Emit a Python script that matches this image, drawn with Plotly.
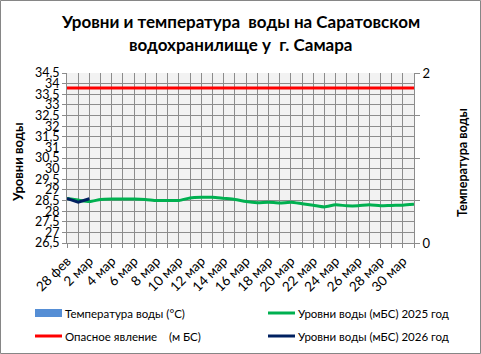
import plotly.graph_objects as go

dates = ["28 фев"] + [f"{d} мар" for d in range(1, 32)]
level_2025 = [28.6, 28.52, 28.45, 28.55, 28.57, 28.57, 28.57, 28.55, 28.5, 28.5,
              28.5, 28.62, 28.65, 28.65, 28.6, 28.55, 28.45, 28.4, 28.42, 28.38,
              28.42, 28.35, 28.28, 28.2, 28.3, 28.25, 28.25, 28.3, 28.25, 28.27,
              28.28, 28.32]
level_2026 = [28.6, 28.42, 28.58]
danger = [33.8] * len(dates)
temperature = [None] * len(dates)

left_ticks = [26.5 + 0.5 * i for i in range(17)]
left_labels = [("%g" % v).replace(".", ",") for v in left_ticks]
right_ticks = [0, 0.5, 1, 1.5, 2]
right_labels = ["0", "", "", "", "2"]

legend_names = ["Температура воды (°С)", "Уровни воды (мБС) 2025 год",
                "Опасное явление    (м БС)", "Уровни воды (мБС) 2026 год"]
legend_colors = ["#558ed5", "#00b050", "#ff0000", "#002060"]

FONT = "Lato"
fig = go.Figure()

fig.add_trace(go.Bar(x=dates, y=temperature, name=legend_names[0],
                     marker_color=legend_colors[0], yaxis="y2"))
fig.add_trace(go.Scatter(x=dates, y=danger, mode="lines", name=legend_names[2],
                         line=dict(color=legend_colors[2], width=3)))
fig.add_trace(go.Scatter(x=dates, y=level_2025, mode="lines", name=legend_names[1],
                         line=dict(color=legend_colors[1], width=3, shape="spline",
                                   smoothing=0.6)))
fig.add_trace(go.Scatter(x=dates[:len(level_2026)], y=level_2026, mode="lines",
                         name=legend_names[3], line=dict(color=legend_colors[3], width=3)))

W, H = 481, 354
ml, mr, mt, mb = 67, 67, 73, 111
pw, ph = W - ml - mr, H - mt - mb

def px(x):
    return (x - ml) / pw

def py(y):
    return (H - mb - y) / ph

ticktext = [d if i % 2 == 0 else "" for i, d in enumerate(dates)]

fig.update_layout(
    width=W, height=H,
    margin=dict(l=ml, r=mr, t=mt, b=mb, autoexpand=False),
    paper_bgcolor="white", plot_bgcolor="#f2f2f2",
    font=dict(family=FONT, size=12, color="#000000"),
    showlegend=False,
    xaxis=dict(type="category", categoryorder="array", categoryarray=dates,
               range=[0, len(dates) - 1], tickvals=dates, ticktext=ticktext,
               tickangle=-45, showgrid=True, gridcolor="#8c8c8c", gridwidth=1,
               ticks="outside", ticklen=4, tickcolor="#8c8c8c", showline=True,
               linecolor="#8c8c8c", zeroline=False, tickfont=dict(size=13.5)),
    yaxis=dict(range=[26.5, 34.5], tickvals=left_ticks, ticktext=left_labels,
               ticks="outside", ticklen=4, tickcolor="#8c8c8c", showgrid=True,
               gridcolor="#8c8c8c", gridwidth=1, showline=True, linecolor="#8c8c8c",
               zeroline=False, tickfont=dict(size=12.5)),
    yaxis2=dict(range=[0, 2], overlaying="y", side="right", tickvals=right_ticks,
                ticktext=right_labels, ticks="outside", ticklen=5, tickcolor="#8c8c8c",
                showgrid=False, showline=True, linecolor="#8c8c8c", zeroline=False,
                tickfont=dict(size=13)),
)

fig.add_annotation(text="<b>Уровни и температура  воды на Саратовском</b>",
                   xref="paper", yref="paper", x=px(240), y=py(22),
                   showarrow=False, font=dict(size=17, family=FONT), xanchor="center",
                   yanchor="middle")
fig.add_annotation(text="<b>водохранилище у  г. Самара</b>",
                   xref="paper", yref="paper", x=px(240), y=py(45),
                   showarrow=False, font=dict(size=17, family=FONT), xanchor="center",
                   yanchor="middle")
fig.add_annotation(text="<b>Уровни воды</b>", xref="paper", yref="paper",
                   x=px(18), y=py(162), textangle=-90, showarrow=False,
                   font=dict(size=13, family=FONT), xanchor="center", yanchor="middle")
fig.add_annotation(text="<b>Температура воды</b>", xref="paper", yref="paper",
                   x=px(462), y=py(163), textangle=-90, showarrow=False,
                   font=dict(size=12.5, family=FONT), xanchor="center", yanchor="middle")

# manual legend (2 columns)
leg_pos = [(35, 313), (268, 313), (35, 336), (268, 336)]
for i, (name, col) in enumerate(zip(legend_names, legend_colors)):
    lx, ly = leg_pos[i]
    if i == 0:
        fig.add_shape(type="rect", xref="paper", yref="paper", x0=px(lx), x1=px(lx + 27),
                      y0=py(ly + 4), y1=py(ly - 4), fillcolor=col, line=dict(width=0))
    else:
        fig.add_shape(type="line", xref="paper", yref="paper", x0=px(lx), x1=px(lx + 27),
                      y0=py(ly), y1=py(ly), line=dict(color=col, width=3))
    fig.add_annotation(text=name, xref="paper", yref="paper", x=px(lx + 28), y=py(ly),
                       xanchor="left", yanchor="middle", showarrow=False,
                       font=dict(size=11.5, family=FONT))

fig.add_shape(type="rect", xref="paper", yref="paper",
              x0=px(0.5), x1=px(W - 0.5), y0=py(H - 0.5), y1=py(0.5),
              line=dict(color="#868686", width=1), fillcolor="rgba(0,0,0,0)", layer="above")

fig.write_html("out.html")
